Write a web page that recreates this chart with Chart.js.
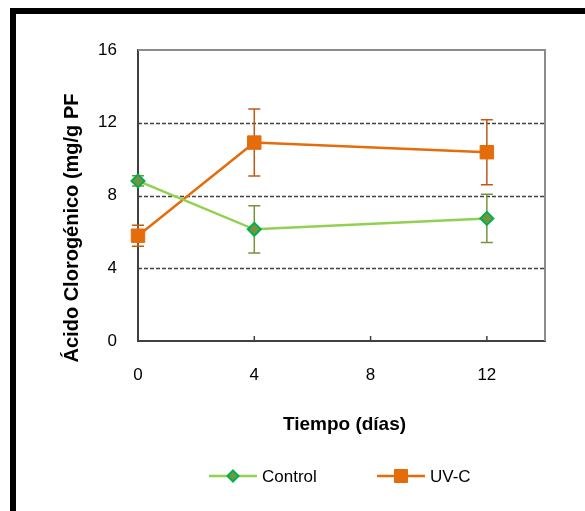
<!DOCTYPE html>
<html><head><meta charset="utf-8">
<script src="https://cdn.jsdelivr.net/npm/chart.js@4"></script>
<style>
html,body{margin:0;padding:0;background:#fff;}
#wrap{position:relative;width:585px;height:511px;overflow:hidden;}
#frame{position:absolute;left:10px;top:8px;width:600px;height:600px;border-left:6px solid #000;border-top:6px solid #000;pointer-events:none;}
canvas{position:absolute;left:0;top:0;}
</style></head><body>
<div id="wrap"><canvas id="c" width="585" height="511"></canvas><div id="frame"></div></div>
<script>
const days = [0, 4, 12];
const controlValues = [8.8, 6.14, 6.74];
const controlErrors = [0.28, 1.3, 1.33];
const uvcValues = [5.79, 10.91, 10.38];
const uvcErrors = [0.58, 1.84, 1.79];
const xTicks = [0, 4, 8, 12];
const yTicks = [0, 4, 8, 12, 16];
const gridValues = [4, 8, 12];
const seriesNames = ['Control', 'UV-C'];
const xTitle = 'Tiempo (días)';
const yTitle = 'Ácido Clorogénico (mg/g PF';

const FONT = "'Liberation Sans', Arial, sans-serif";
const errorSets = [
  {values: controlValues, errors: controlErrors, color: '#77933C'},
  {values: uvcValues, errors: uvcErrors, color: '#C0581A'}
];

const decor = {
  id: 'decor',
  beforeDatasetsDraw(chart) {
    const ctx = chart.ctx, a = chart.chartArea;
    const xs = chart.scales.x, ys = chart.scales.y;
    ctx.save();
    ctx.strokeStyle = '#404040';
    ctx.lineWidth = 1.5;
    ctx.setLineDash([4, 2]);
    gridValues.forEach(v => {
      const y = Math.round(ys.getPixelForValue(v)) + 0.5;
      ctx.beginPath(); ctx.moveTo(a.left, y); ctx.lineTo(a.right, y); ctx.stroke();
    });
    ctx.setLineDash([]);
    ctx.strokeStyle = '#8c8c8c';
    ctx.lineWidth = 2;
    ctx.beginPath();
    ctx.moveTo(a.left, a.top); ctx.lineTo(a.right, a.top); ctx.lineTo(a.right, a.bottom);
    ctx.stroke();
    ctx.strokeStyle = '#404040';
    ctx.lineWidth = 1.5;
    xTicks.slice(1).forEach(v => {
      const x = xs.getPixelForValue(v);
      ctx.beginPath(); ctx.moveTo(x, a.bottom); ctx.lineTo(x, a.bottom - 5); ctx.stroke();
    });
    errorSets.forEach(s => {
      ctx.strokeStyle = s.color;
      ctx.lineWidth = 1.5;
      days.forEach((d, i) => {
        const x = xs.getPixelForValue(d);
        const y1 = ys.getPixelForValue(s.values[i] + s.errors[i]);
        const y2 = ys.getPixelForValue(s.values[i] - s.errors[i]);
        ctx.beginPath();
        ctx.moveTo(x, y1); ctx.lineTo(x, y2);
        ctx.moveTo(x - 6, y1); ctx.lineTo(x + 6, y1);
        ctx.moveTo(x - 6, y2); ctx.lineTo(x + 6, y2);
        ctx.stroke();
      });
    });
    ctx.restore();
  },
  afterDraw(chart) {
    const ctx = chart.ctx, a = chart.chartArea;
    ctx.save();
    ctx.fillStyle = '#000';
    ctx.font = 'bold 19px ' + FONT;
    ctx.textAlign = 'center';
    ctx.textBaseline = 'alphabetic';
    ctx.fillText(xTitle, (a.left + a.right) / 2 + 3, 430);
    ctx.save();
    ctx.translate(78, 228);
    ctx.rotate(-Math.PI / 2);
    ctx.font = 'bold 20px ' + FONT;
    ctx.fillText(yTitle, 0, 0);
    ctx.restore();
    const ly = 476;
    const items = [
      {x: 209, ds: chart.data.datasets[0]},
      {x: 377, ds: chart.data.datasets[1]}
    ];
    items.forEach((it, k) => {
      const ds = it.ds;
      ctx.strokeStyle = ds.borderColor;
      ctx.lineWidth = 2.5;
      ctx.beginPath(); ctx.moveTo(it.x, ly); ctx.lineTo(it.x + 48, ly); ctx.stroke();
      ctx.fillStyle = ds.pointBackgroundColor;
      ctx.strokeStyle = ds.pointBorderColor;
      ctx.lineWidth = ds.pointBorderWidth;
      ctx.beginPath();
      if (k === 0) {
        const r = 5.5;
        ctx.moveTo(it.x + 24, ly - r); ctx.lineTo(it.x + 24 + r, ly);
        ctx.lineTo(it.x + 24, ly + r); ctx.lineTo(it.x + 24 - r, ly); ctx.closePath();
      } else {
        ctx.rect(it.x + 24 - 6.5, ly - 6.5, 13, 13);
      }
      ctx.fill(); ctx.stroke();
      ctx.fillStyle = '#000';
      ctx.font = '17px ' + FONT;
      ctx.textAlign = 'left';
      ctx.textBaseline = 'middle';
      ctx.fillText(seriesNames[k], it.x + 53, ly + 1);
    });
    ctx.restore();
  }
};

new Chart(document.getElementById('c'), {
  type: 'line',
  data: {
    datasets: [
      {
        label: seriesNames[0],
        data: days.map((d, i) => ({x: d, y: controlValues[i]})),
        borderColor: '#92D050',
        borderWidth: 2.5,
        pointStyle: 'rectRot',
        pointRadius: 6.5,
        pointBackgroundColor: '#77933C',
        pointBorderColor: '#00B050',
        pointBorderWidth: 2,
        tension: 0,
        clip: false
      },
      {
        label: seriesNames[1],
        data: days.map((d, i) => ({x: d, y: uvcValues[i]})),
        borderColor: '#E46C0A',
        borderWidth: 2.5,
        pointStyle: 'rect',
        pointRadius: 9.5,
        pointBackgroundColor: '#E46C0A',
        pointBorderColor: '#E46C0A',
        pointBorderWidth: 1,
        tension: 0,
        clip: false
      }
    ]
  },
  options: {
    responsive: false,
    animation: false,
    devicePixelRatio: 1,
    layout: {padding: {left: 0, top: 50, right: 40, bottom: 0}},
    plugins: {legend: {display: false}, tooltip: {enabled: false}},
    scales: {
      x: {
        type: 'linear', min: 0, max: 14,
        afterBuildTicks: s => { s.ticks = xTicks.map(v => ({value: v})); },
        afterFit: s => { s.height = 170; },
        grid: {display: false, drawTicks: false, tickLength: 0},
        border: {display: true, color: '#404040', width: 2},
        ticks: {font: {family: FONT, size: 17}, color: '#000', padding: 24, maxRotation: 0}
      },
      y: {
        type: 'linear', min: 0, max: 16,
        afterBuildTicks: s => { s.ticks = yTicks.map(v => ({value: v})); },
        afterFit: s => { s.width = 138; },
        grid: {display: false, drawTicks: false, tickLength: 0},
        border: {display: true, color: '#404040', width: 2},
        ticks: {font: {family: FONT, size: 17}, color: '#000', padding: 21}
      }
    }
  },
  plugins: [decor]
});
</script>
</body></html>
